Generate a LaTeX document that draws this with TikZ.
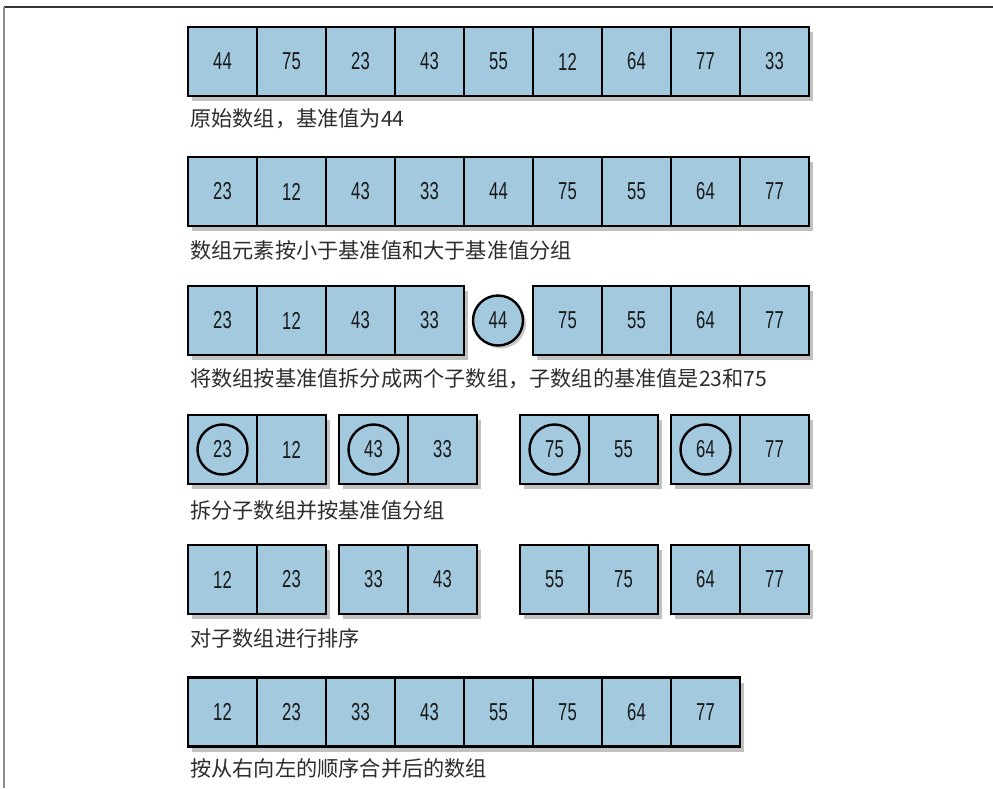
\documentclass[tikz,border=0pt]{standalone}
\usepackage{fontspec}
\setmainfont{Liberation Sans}
\newfontfamily\numfont[FakeStretch=0.68]{Liberation Sans}
\newfontfamily\cjk{Noto Sans CJK SC}
\usetikzlibrary{shadows}
\definecolor{cellblue}{RGB}{163,201,223}
\definecolor{labgray}{RGB}{45,45,45}
\begin{document}
\begin{tikzpicture}[x=1pt,y=-1pt,
  cell/.style={draw=black, line width=2.8pt, fill=cellblue, minimum width=69pt, minimum height=69pt,
    inner sep=0pt, outer sep=0pt, font=\numfont\fontsize{24.5}{24.5}\selectfont, text=black!90},
  grp/.style={draw=black, line width=2.8pt, fill=cellblue, minimum height=69pt, inner sep=0pt, outer sep=0pt,
    drop shadow={shadow xshift=4pt, shadow yshift=-5pt, opacity=0.35, fill=black!70}},
  pivot/.style={circle, draw=black, line width=2.4pt, minimum size=50pt, inner sep=0pt,
    font=\numfont\fontsize{24.5}{24.5}\selectfont, text=black!90},
  lone/.style={pivot, fill=cellblue, drop shadow={shadow xshift=3pt, shadow yshift=-3pt, opacity=0.3, fill=black!70}},
  lab/.style={anchor=west, inner sep=0pt, font=\cjk\fontsize{21.2}{21.2}\selectfont, text=labgray}]
\useasboundingbox (0,0) rectangle (993,788);
% frame
\draw[black!80, line width=1.6pt] (4,7) -- (993,7);
\draw[black!45, line width=2pt] (4,7) -- (4,788);

% Row 1
\node[grp, minimum width=621pt] (g1) at (498.5,61.5) {};
\foreach \v [count=\i] in {44,75,23,43,55,12,64,77,33}
  \node[cell] (r1c\i) at ({153.5+69*\i},61.5) {\v};
\node[lab] (l1) at (190,119) {原始数组，基准值为44};

% Row 2
\node[grp, minimum width=621pt] (g2) at (498.5,191.5) {};
\foreach \v [count=\i] in {23,12,43,33,44,75,55,64,77}
  \node[cell] (r2c\i) at ({153.5+69*\i},191.5) {\v};
\node[lab] (l2) at (190,250) {数组元素按小于基准值和大于基准值分组};

% Row 3
\node[grp, minimum width=276pt] (g3a) at (326,320.5) {};
\node[grp, minimum width=276pt] (g3b) at (671,320.5) {};
\foreach \v [count=\i] in {23,12,43,33}
  \node[cell] (r3a\i) at ({153.5+69*\i},320.5) {\v};
\foreach \v [count=\i] in {75,55,64,77}
  \node[cell] (r3b\i) at ({498.5+69*\i},320.5) {\v};
\node[lone] (p3) at (498,320.5) {44};
\node[lab] (l3) at (190,379) {将数组按基准值拆分成两个子数组，子数组的基准值是23和75};

% Row 4
\foreach \g/\x/\a/\b in {a/222.5/23/12, b/373.5/43/33, c/554.5/75/55, d/705.5/64/77}{
  \node[grp, minimum width=138pt] (g4\g) at (\x+34.5,449.5) {};
  \node[cell] (r4\g1) at (\x,449.5) {};
  \node[cell] (r4\g2) at (\x+69,449.5) {\b};
  \node[pivot] (p4\g) at (r4\g1) {\a};
}
\node[lab] (l4) at (190,510) {拆分子数组并按基准值分组};

% Row 5
\foreach \g/\x/\a/\b in {a/222.5/12/23, b/373.5/33/43, c/554.5/55/75, d/705.5/64/77}{
  \node[grp, minimum width=138pt] (g5\g) at (\x+34.5,579.5) {};
  \node[cell] (r5\g1) at (\x,579.5) {\a};
  \node[cell] (r5\g2) at (\x+69,579.5) {\b};
}
\node[lab] (l5) at (190,638) {对子数组进行排序};

% Row 6
\node[grp, minimum width=552pt] (g6) at (464,712) {};
\foreach \v [count=\i] in {12,23,33,43,55,75,64,77}
  \node[cell] (r6c\i) at ({153.5+69*\i},712) {\v};
\node[lab] (l6) at (190,768) {按从右向左的顺序合并后的数组};
\end{tikzpicture}
\end{document}
